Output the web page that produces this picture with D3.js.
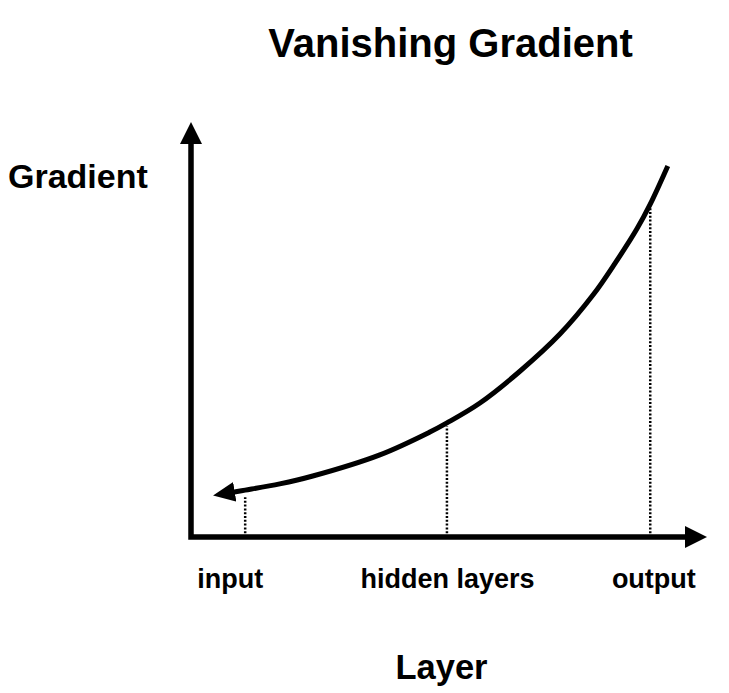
<!DOCTYPE html>
<html>
<head>
<meta charset="utf-8">
<script src="https://cdn.jsdelivr.net/npm/d3@7"></script>
<style>
  html, body { margin: 0; padding: 0; background: #fff; }
  text { font-family: "Liberation Sans", Arial, Helvetica, sans-serif; font-weight: bold; fill: #000; }
</style>
</head>
<body>
<svg id="chart" width="729" height="693"></svg>
<script>
// ---- data (arbitrary units 0..100 on both axes) ----
const title = "Vanishing Gradient";
const yLabel = "Gradient";
const xLabel = "Layer";
const curveLayer    = [8.1, 10.5, 17.2, 23.6, 36.6, 46.3, 49.6, 56.0, 63.8, 71.5, 77.9, 82.2, 86.4, 89.0, 92.4];
const curveGradient = [10.8, 11.3, 12.8, 14.7, 19.8, 25.3, 27.5, 32.3, 40.0, 48.9, 58.3, 66.0, 74.2, 80.2, 89.4];
const categories    = ["input", "hidden layers", "output"];
const categoryLayer = [7.6, 49.7, 89.7];      // label centres
const markerLayer   = [10.5, 49.6, 89.0];     // dotted drop lines
const markerGradient = [9.6, 26.7, 79.3];

// ---- layout ----
const svg = d3.select("#chart");
const x = d3.scaleLinear().domain([0, 100]).range([191, 707]);
const y = d3.scaleLinear().domain([0, 100]).range([537, 122]);
const arrowLen = 22, arrowHalf = 11;

// marker for the curve arrowhead
svg.append("defs").append("marker")
  .attr("id", "curveArrow")
  .attr("markerUnits", "userSpaceOnUse")
  .attr("viewBox", "0 -11 24 22")
  .attr("refX", 2).attr("refY", 0)
  .attr("markerWidth", 24).attr("markerHeight", 22)
  .attr("orient", "auto-start-reverse")
  .append("path")
  .attr("d", "M0,-10 L22,0 L0,10 Z")
  .attr("fill", "#000");

// dotted drop lines
svg.append("g").selectAll("line")
  .data(markerLayer.map((v, i) => [v, markerGradient[i]]))
  .join("line")
  .attr("x1", d => x(d[0])).attr("x2", d => x(d[0]))
  .attr("y1", y(0)).attr("y2", d => y(d[1]))
  .attr("stroke", "#000").attr("stroke-width", 2.5)
  .attr("stroke-dasharray", "2,1.8");

// axes with arrowheads
svg.append("path")
  .attr("d", `M${x(0)},${y(100) + arrowLen} L${x(0)},${y(0)} L${x(100) - arrowLen},${y(0)}`)
  .attr("fill", "none").attr("stroke", "#000").attr("stroke-width", 5.5)
  .attr("stroke-linejoin", "miter");
svg.append("path")
  .attr("d", `M${x(0)},${y(100)} L${x(0) - arrowHalf},${y(100) + arrowLen} L${x(0) + arrowHalf},${y(100) + arrowLen} Z`)
  .attr("fill", "#000");
svg.append("path")
  .attr("d", `M${x(100)},${y(0)} L${x(100) - arrowLen},${y(0) - arrowHalf} L${x(100) - arrowLen},${y(0) + arrowHalf} Z`)
  .attr("fill", "#000");

// curve
const line = d3.line().x(d => x(d[0])).y(d => y(d[1])).curve(d3.curveCatmullRom.alpha(0.5));
svg.append("path")
  .datum(curveLayer.map((v, i) => [v, curveGradient[i]]))
  .attr("d", line)
  .attr("fill", "none").attr("stroke", "#000").attr("stroke-width", 5)
  .attr("marker-start", "url(#curveArrow)");

// texts
svg.append("text").attr("x", 450.5).attr("y", 57).attr("text-anchor", "middle")
  .attr("font-size", 40).text(title);
svg.append("text").attr("x", 8).attr("y", 188).attr("font-size", 34).text(yLabel);
svg.append("text").attr("x", 441.5).attr("y", 679).attr("text-anchor", "middle")
  .attr("font-size", 34.5).text(xLabel);
svg.append("g").selectAll("text")
  .data(categories)
  .join("text")
  .attr("x", (d, i) => x(categoryLayer[i])).attr("y", 588)
  .attr("text-anchor", "middle").attr("font-size", 27)
  .text(d => d);
</script>
</body>
</html>
